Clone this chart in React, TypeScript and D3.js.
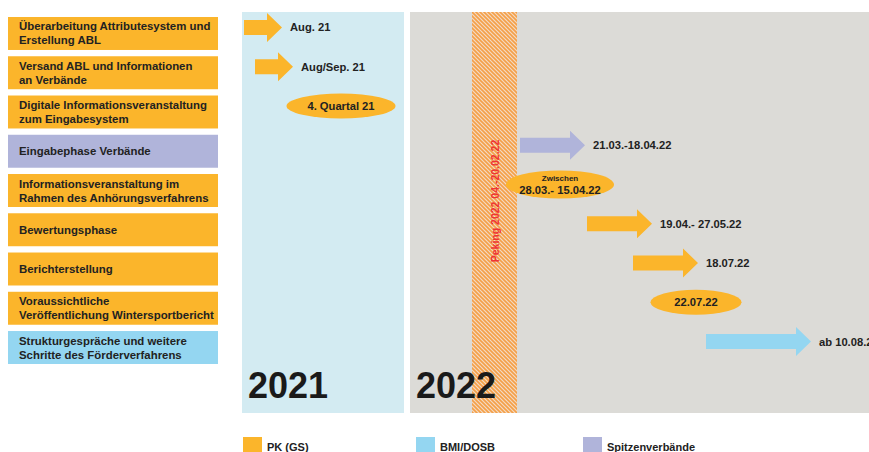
import React from "react";
import * as d3 from "d3";

const W = 869;
const H = 452;

// Row labels (left column)
const taskLabels: string[][] = [
  ["Überarbeitung Attributesystem und", "Erstellung ABL"],
  ["Versand ABL und Informationen", "an Verbände"],
  ["Digitale Informationsveranstaltung", "zum Eingabesystem"],
  ["Eingabephase Verbände"],
  ["Informationsveranstaltung im", "Rahmen des Anhörungsverfahrens"],
  ["Bewertungsphase"],
  ["Berichterstellung"],
  ["Voraussichtliche", "Veröffentlichung Wintersportbericht"],
  ["Strukturgespräche und weitere", "Schritte des Förderverfahrens"],
];
const taskGroup = ["PK", "PK", "PK", "SV", "PK", "PK", "PK", "PK", "BMI"];
// marker type per row
const markerType = ["arrow", "arrow", "ellipse", "arrow", "ellipse", "arrow", "arrow", "ellipse", "arrow"];
// timeline position (units) of marker start and end
const markerStart = [2, 13, 44.5, 278, 264, 345, 391, 408.5, 464];
const markerEnd = [40, 51, 153.5, 343, 372, 410, 456, 499.5, 569];
const markerDate = [
  "Aug. 21",
  "Aug/Sep. 21",
  "4. Quartal 21",
  "21.03.-18.04.22",
  "28.03.- 15.04.22",
  "19.04.- 27.05.22",
  "18.07.22",
  "22.07.22",
  "ab 10.08.22",
];
const markerNote = ["", "", "", "", "Zwischen", "", "", "", ""];

// Year panels in timeline units
const years = ["2021", "2022"];
const yearStart = [0, 168];
const yearEnd = [162, 640];
const olympicStart = 230;
const olympicEnd = 275;
const olympicLabel = "Peking 2022 04.-20.02.22";

const legendKeys = ["PK", "BMI", "SV"];
const legendLabels = ["PK (GS)", "BMI/DOSB", "Spitzenverbände"];

const groupColor: Record<string, string> = {
  PK: "#fbb52b",
  BMI: "#94d6f1",
  SV: "#b0b4da",
};
const panelColor = ["#d3ebf2", "#dcdbd7"];

const FONT = "'Liberation Sans', Arial, sans-serif";

export default function App() {
  const x = d3.scaleLinear().domain([0, 627]).range([242, 869]);
  const y = d3
    .scaleBand<number>()
    .domain(d3.range(taskLabels.length))
    .range([17, 364])
    .paddingInner(0.16)
    .paddingOuter(0);
  const bw = y.bandwidth();
  const markerOffset = -6;
  const legendX = d3.scaleOrdinal<string, number>().domain(legendKeys).range([243, 416, 583]);

  const arrowPath = (x0: number, x1: number, cy: number) => {
    const head = 15;
    const hh = 14.5;
    const sh = 7.5;
    const hx = x1 - head;
    return `M${x0},${cy - sh}L${hx},${cy - sh}L${hx},${cy - hh}L${x1},${cy}L${hx},${cy + hh}L${hx},${cy + sh}L${x0},${cy + sh}Z`;
  };

  return (
    <div style={{ position: "absolute", left: 0, top: 0, width: W, height: H, overflow: "hidden", background: "#fff" }}>
      <svg width={W} height={H} style={{ display: "block" }} fontFamily={FONT}>
        <defs>
          <pattern id="hatch" patternUnits="userSpaceOnUse" width="4" height="4">
            <rect width="4" height="4" fill="#f3dac4" />
            <path d="M-1,-1L5,5M-1,3L1,5M3,-1L5,1" stroke="#f5a047" strokeWidth="1.6" />
          </pattern>
        </defs>

        {/* year panels */}
        {years.map((yr, i) => (
          <rect key={yr} x={x(yearStart[i])} y={12} width={x(yearEnd[i]) - x(yearStart[i])} height={401} fill={panelColor[i]} />
        ))}
        {/* olympic band */}
        <rect x={x(olympicStart)} y={12} width={x(olympicEnd) - x(olympicStart)} height={401} fill="url(#hatch)" />
        {years.map((yr, i) => (
          <text key={yr + "t"} x={x(yearStart[i]) + 6} y={398} fontSize={36} fontWeight="bold" fill="#1a1a1a">
            {yr}
          </text>
        ))}
        <text
          transform={`translate(${x((olympicStart + olympicEnd) / 2) + 4},201) rotate(-90)`}
          textAnchor="middle"
          fontSize={10.5}
          fontWeight="bold"
          fill="#ee3434"
        >
          {olympicLabel}
        </text>

        {/* left task boxes */}
        {taskLabels.map((lines, i) => {
          const top = y(i)!;
          const cy = top + bw / 2;
          return (
            <g key={"b" + i}>
              <rect x={8} y={top} width={210} height={bw} fill={groupColor[taskGroup[i]]} />
              {lines.map((ln, j) => (
                <text
                  key={j}
                  x={19}
                  y={cy + (j - (lines.length - 1) / 2) * 14 + 4}
                  fontSize={11.4}
                  fontWeight="bold"
                  fill="#222"
                >
                  {ln}
                </text>
              ))}
            </g>
          );
        })}

        {/* markers */}
        {markerType.map((t, i) => {
          const cy = y(i)! + bw / 2 + markerOffset;
          const x0 = x(markerStart[i]);
          const x1 = x(markerEnd[i]);
          if (t === "arrow") {
            return (
              <g key={"m" + i}>
                <path d={arrowPath(x0, x1, cy)} fill={groupColor[taskGroup[i]]} />
                <text x={x1 + 8} y={cy + 4} fontSize={11.2} fontWeight="bold" fill="#222">
                  {markerDate[i]}
                </text>
              </g>
            );
          }
          const cx = (x0 + x1) / 2;
          const rx = (x1 - x0) / 2;
          const ry = markerNote[i] ? 14 : 12.5;
          return (
            <g key={"m" + i}>
              <ellipse cx={cx} cy={cy} rx={rx} ry={ry} fill={groupColor[taskGroup[i]]} />
              {markerNote[i] ? (
                <>
                  <text x={cx} y={cy - 4} textAnchor="middle" fontSize={8} fontWeight="bold" fill="#222">
                    {markerNote[i]}
                  </text>
                  <text x={cx} y={cy + 9} textAnchor="middle" fontSize={11.2} fontWeight="bold" fill="#222">
                    {markerDate[i]}
                  </text>
                </>
              ) : (
                <text x={cx} y={cy + 4} textAnchor="middle" fontSize={11.2} fontWeight="bold" fill="#222">
                  {markerDate[i]}
                </text>
              )}
            </g>
          );
        })}

        {/* legend */}
        {legendKeys.map((k, i) => (
          <g key={"l" + k}>
            <rect x={legendX(k)} y={437} width={19} height={18} fill={groupColor[k]} />
            <text x={legendX(k) + 24} y={451} fontSize={11} fontWeight="bold" fill="#222">
              {legendLabels[i]}
            </text>
          </g>
        ))}
      </svg>
    </div>
  );
}
